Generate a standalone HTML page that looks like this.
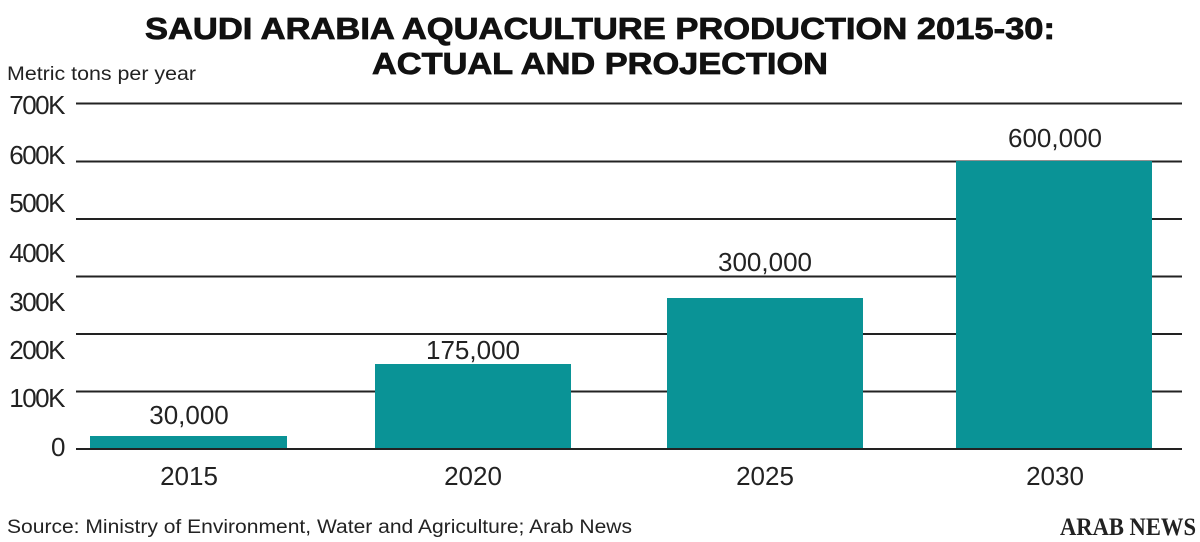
<!DOCTYPE html>
<html><head><meta charset="utf-8"><style>
body{margin:0;background:#fff;}
svg{display:block;font-family:"Liberation Sans",sans-serif;}
</style></head><body>
<svg width="1200" height="542" viewBox="0 0 1200 542">
<rect width="1200" height="542" fill="#fff"/>
<g font-weight="900" font-size="31" fill="#111" stroke="#111" stroke-width="0.8">
<text x="145" y="39" textLength="910" lengthAdjust="spacingAndGlyphs">SAUDI ARABIA AQUACULTURE PRODUCTION 2015-30:</text>
<text x="372" y="74" textLength="456" lengthAdjust="spacingAndGlyphs">ACTUAL AND PROJECTION</text>
</g>
<text x="7" y="80" font-size="19" fill="#222" textLength="189" lengthAdjust="spacingAndGlyphs">Metric tons per year</text>
<g stroke="#222" stroke-width="2">
<line x1="76" x2="1182" y1="103.5" y2="103.5"/>
<line x1="76" x2="1182" y1="161.5" y2="161.5"/>
<line x1="76" x2="1182" y1="219" y2="219"/>
<line x1="76" x2="1182" y1="276.5" y2="276.5"/>
<line x1="76" x2="1182" y1="334" y2="334"/>
<line x1="76" x2="1182" y1="391.5" y2="391.5"/>
</g>
<g fill="#0a9396">
<rect x="90" y="436" width="197" height="13"/>
<rect x="375" y="364" width="196" height="85"/>
<rect x="667" y="298" width="196" height="151"/>
<rect x="956" y="161" width="196" height="288"/>
</g>
<line x1="76" x2="1182" y1="449" y2="449" stroke="#222" stroke-width="2"/>
<g font-size="26" fill="#222" text-anchor="end" letter-spacing="-1.5">
<text x="64" y="114">700K</text>
<text x="64" y="164">600K</text>
<text x="64" y="212">500K</text>
<text x="64" y="262">400K</text>
<text x="64" y="311">300K</text>
<text x="64" y="359">200K</text>
<text x="64" y="407">100K</text>
<text x="64" y="456">0</text>
</g>
<g font-size="26" fill="#222" text-anchor="middle">
<text x="189" y="424">30,000</text>
<text x="473" y="359">175,000</text>
<text x="765" y="271">300,000</text>
<text x="1055" y="147">600,000</text>
<text x="189" y="485">2015</text>
<text x="473" y="485">2020</text>
<text x="765" y="485">2025</text>
<text x="1055" y="485">2030</text>
</g>
<text x="7" y="533" font-size="19" fill="#222" textLength="625" lengthAdjust="spacingAndGlyphs">Source: Ministry of Environment, Water and Agriculture; Arab News</text>
<text x="1060" y="535" font-size="25" font-weight="bold" fill="#222" font-family="Liberation Serif,serif" textLength="136" lengthAdjust="spacingAndGlyphs">ARAB NEWS</text>
</svg>
</body></html>
